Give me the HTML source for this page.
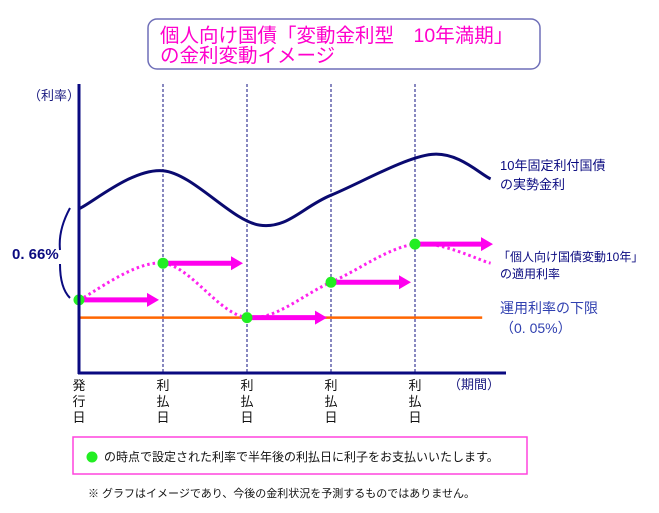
<!DOCTYPE html>
<html><head><meta charset="utf-8">
<style>
html,body{margin:0;padding:0;background:#fff;}
body{width:659px;height:513px;overflow:hidden;position:relative;font-family:"Liberation Sans","Noto Sans CJK JP",sans-serif;}
svg{position:absolute;left:0;top:0;}
</style></head>
<body>
<svg id="chart" width="659" height="513" viewBox="0 0 659 513">
  <rect x="148" y="19" width="392" height="50" rx="9" fill="#fff" stroke="#6f6fb8" stroke-width="1.5"/>
  <text x="160" y="42" font-size="19.5" fill="#ff00cc" font-family="Liberation Sans, Noto Sans CJK JP, sans-serif">個人向け国債「変動金利型　10年満期」</text>
  <text x="160" y="62" font-size="19.5" fill="#ff00cc" font-family="Liberation Sans, Noto Sans CJK JP, sans-serif">の金利変動イメージ</text>
  <text x="28" y="100" font-size="13" fill="#1a1a80" font-family="Liberation Sans, Noto Sans CJK JP, sans-serif">（利率）</text>
  <g id="grid"></g>
  <g id="series"></g>
  <line x1="79" y1="84" x2="79" y2="374" stroke="#0a0a80" stroke-width="3"/>
  <line x1="78" y1="373" x2="506" y2="373" stroke="#0a0a80" stroke-width="3"/>
  <path d="M70,208 Q58,230 60,250 M60,264 Q60,288 70,298" fill="none" stroke="#0a0a80" stroke-width="2"/>
  <text x="12" y="259" font-size="15" font-weight="bold" fill="#0a0a80" font-family="Liberation Sans, Noto Sans CJK JP, sans-serif">0. 66%</text>
  <text x="448" y="389" font-size="13" fill="#1a1a80" font-family="Liberation Sans, Noto Sans CJK JP, sans-serif">（期間）</text>
  <g id="xlabels"></g>
  <g font-family="Liberation Sans, Noto Sans CJK JP, sans-serif">
    <text x="500" y="170" font-size="13" fill="#0a0a80">10年固定利付国債</text>
    <text x="500" y="189" font-size="13" fill="#0a0a80">の実勢金利</text>
    <text x="498" y="261" font-size="12" fill="#0a0a80">「個人向け国債変動10年」</text>
    <text x="500" y="278" font-size="12" fill="#0a0a80">の適用利率</text>
    <text x="500" y="313" font-size="14" fill="#3040b0">運用利率の下限</text>
    <text x="500" y="333" font-size="14" fill="#3040b0">（0. 05%）</text>
  </g>
  <rect x="73" y="437" width="454" height="37" fill="#fff" stroke="#ff44dd" stroke-width="1.5"/>
  <circle cx="92" cy="457" r="5.5" fill="#22ee22"/>
  <text x="104" y="461" font-size="12" fill="#111" font-family="Liberation Sans, Noto Sans CJK JP, sans-serif">の時点で設定された利率で半年後の利払日に利子をお支払いいたします。</text>
  <text x="88" y="497" font-size="11" fill="#111" font-family="Liberation Sans, Noto Sans CJK JP, sans-serif">※ グラフはイメージであり、今後の金利状況を予測するものではありません。</text>
</svg>
<script>
// data
const periods = ["発行日","利払日","利払日","利払日","利払日"];
const jgbT = [0, 1, 2.15, 3, 4.2, 4.9];
const jgbRate = [0.60, 0.74, 0.54, 0.65, 0.80, 0.71];
const appliedT = [0, 1, 2, 3, 4, 4.9];
const appliedRate = [0.265, 0.40, 0.20, 0.33, 0.47, 0.40];
const floorRate = 0.20;
const floorEnd = 4.8;

const NS = "http://www.w3.org/2000/svg";
const x = t => 79 + t * 84;
const y = v => 372 - v * 272;

function mk(tag, attrs){const e=document.createElementNS(NS,tag);for(const k in attrs)e.setAttribute(k,attrs[k]);return e;}
function smooth(ts, vs){
  const p = ts.map((t,i)=>[x(t),y(vs[i])]);
  let d = `M${p[0][0]},${p[0][1]}`;
  for(let i=0;i<p.length-1;i++){
    const p0=p[i-1]||p[i], p1=p[i], p2=p[i+1], p3=p[i+2]||p2;
    const c1=[p1[0]+(p2[0]-p0[0])/6, p1[1]+(p2[1]-p0[1])/6];
    const c2=[p2[0]-(p3[0]-p1[0])/6, p2[1]-(p3[1]-p1[1])/6];
    d+=` C${c1[0]},${c1[1]} ${c2[0]},${c2[1]} ${p2[0]},${p2[1]}`;
  }
  return d;
}

const grid = document.getElementById('grid');
const xl = document.getElementById('xlabels');
periods.forEach((lab,i)=>{
  if(i>0){
    const l = mk('line',{x1:x(i),y1:84,x2:x(i),y2:372,stroke:'#101080','stroke-width':1,'stroke-dasharray':'3,2'});
    
    
    grid.appendChild(l);
  }
  [...lab].forEach((ch,j)=>{
    const t = mk('text',{x:x(i),y:390+j*16,'font-size':13,'text-anchor':'middle',fill:'#111','font-family':'Liberation Sans, Noto Sans CJK JP, sans-serif'});
    
    
    t.textContent = ch;
    xl.appendChild(t);
  });
});

const s = document.getElementById('series');
const fl = mk('line',{x1:x(0),y1:y(floorRate),x2:x(floorEnd),y2:y(floorRate),stroke:'#ff6600','stroke-width':2.5});


s.appendChild(fl);

const jg = mk('path',{d:smooth(jgbT,jgbRate),fill:'none',stroke:'#0a0a70','stroke-width':3});


s.appendChild(jg);

const ap = mk('path',{d:smooth(appliedT,appliedRate),fill:'none',stroke:'#ff22ee','stroke-width':3,'stroke-dasharray':'2.5,3'});


s.appendChild(ap);

for(let i=0;i<periods.length;i++){
  const px=x(appliedT[i]), py=y(appliedRate[i]);
  const len = i===4 ? 78 : 80;
  const ar = mk('path',{d:`M${px},${py-2.5} L${px+len-12},${py-2.5} L${px+len-12},${py-7} L${px+len},${py} L${px+len-12},${py+7} L${px+len-12},${py+2.5} L${px},${py+2.5} Z`,fill:'#ff00ee'});
  
  
  s.appendChild(ar);
  const c = mk('circle',{cx:px,cy:py,r:5.5,fill:'#22ee22'});
  
  
  s.appendChild(c);
}
</script>
</body></html>
